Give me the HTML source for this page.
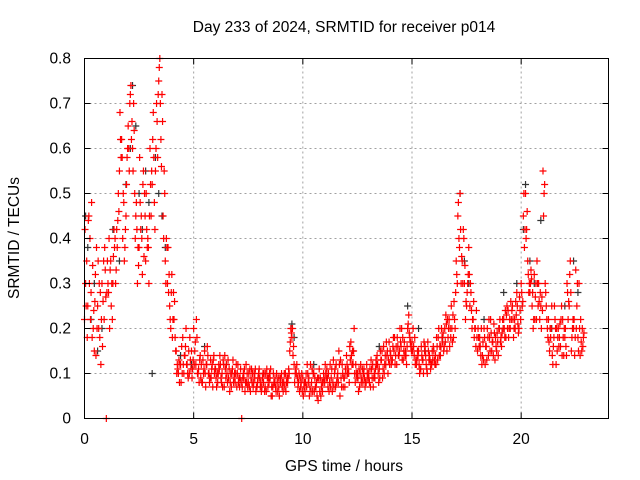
<!DOCTYPE html>
<html><head><meta charset="utf-8">
<style>
body{margin:0;background:#fff;}
svg{display:block;font-family:"Liberation Sans",sans-serif;}
</style></head>
<body>
<svg id="chart" width="640" height="480" viewBox="0 0 640 480">
<rect width="640" height="480" fill="#fff"/>
<g id="grid"></g>
<g id="black"></g>
<g id="red"></g>
<rect x="84.5" y="58.5" width="524" height="360" fill="none" stroke="#000" stroke-width="1"/>
<g id="ticks"></g>
<text x="344" y="32" text-anchor="middle" font-size="15.5">Day 233 of 2024, SRMTID for receiver p014</text>
<text x="344" y="471" text-anchor="middle" font-size="15.5">GPS time / hours</text>
<text x="19" y="238" text-anchor="middle" font-size="15.5" transform="rotate(-90 19 238)">SRMTID / TECUs</text>
</svg>
<script>
const xTicks=[0,5,10,15,20];
const yTicks=[0,0.1,0.2,0.3,0.4,0.5,0.6,0.7,0.8];
const yTickLabels=["0","0.1","0.2","0.3","0.4","0.5","0.6","0.7","0.8"];
const redStart=0, redStep=0.1;
const redA=[.22,.35,.45,.28,.2,.32,.25,.18,.3,.22,
0,.28,.35,.3,.4,.38,.55,.62,.48,.45,
.65,.72,.6,.5,.42,.38,.45,.55,.35,.4,
.6,.52,.48,.7,.75,.62,.45,.35,.3,.25,
.32,.22,.15,.1,.12,.18,.14,.12,.1,.15,
.2,.12,.1,.14,.08,.15,.12,.1,.09,.13,
.11,.08,.14,.1,.07,.12,.09,.1,.13,.08,
.1,.07,0,.09,.12,.08,.06,.1,.09,.07,
.11,.06,.08,.1,.07,.09,.05,.08,.1,.07,
.09,.06,.1,.08,.15,.18,.12,.1,.08,.07,
.09,.06,.12,.05,.08,.1,.07,.04,.09,.06,
.08,.11,.06,.09,.13,.07,.1,.05,.12,.09,
.14,.1,.17,.12,.08,.1,.07,.09,.11,.08,
.1,.07,.12,.09,.14,.11,.13,.16,.12,.1,
.15,.13,.18,.12,.14,.16,.13,.15,.2,.18,
.17,.14,.12,.15,.11,.13,.16,.1,.14,.12,
.15,.12,.18,.14,.17,.2,.15,.22,.25,.18,
.28,.45,.5,.35,.3,.25,.38,.28,.22,.2,
.15,.18,.12,.2,.16,.14,.22,.17,.13,.19,
.2,.16,.22,.18,.24,.2,.25,.22,.28,.2,
.3,.45,.5,.35,.28,.25,.32,.22,.3,.25,
.55,.3,.2,.15,.25,.18,.12,.2,.16,.22,
.18,.3,.25,.15,.2,.33,.18,.14,.2];
const redB=[.3,.25,.4,.18,.15,.38,.2,.12,.26,.33,
.35,.2,.3,.42,.33,.5,.62,.4,.38,.58,
.55,.62,.7,.45,.38,.48,.32,.5,.42,.3,
.45,.68,.55,.58,.8,.72,.55,.4,.28,.2,
.22,.18,.12,.08,.16,.1,.2,.09,.13,.11,
.15,.18,.08,.12,.1,.07,.14,.09,.12,.1,
.07,.12,.09,.13,.11,.08,.06,.1,.09,.12,
.08,.11,.09,.06,.1,.07,.11,.08,.06,.09,
.07,.09,.06,.11,.08,.05,.1,.07,.06,.09,
.07,.1,.08,.11,.2,.14,.1,.09,.06,.1,
.07,.1,.08,.12,.06,.09,.05,.11,.07,.1,
.1,.07,.12,.06,.1,.08,.15,.09,.07,.11,
.1,.16,.12,.2,.1,.06,.12,.08,.07,.1,
.08,.11,.09,.13,.1,.15,.09,.12,.14,.17,
.12,.18,.14,.16,.2,.13,.17,.12,.23,.16,
.2,.12,.15,.1,.14,.17,.12,.15,.11,.13,
.12,.16,.14,.2,.15,.23,.18,.2,.17,.22,
.32,.4,.3,.42,.22,.3,.25,.2,.18,.24,
.18,.14,.17,.12,.2,.18,.15,.21,.16,.14,
.17,.22,.18,.25,.2,.22,.18,.26,.21,.24,
.25,.38,.42,.28,.33,.2,.27,.3,.22,.27,
.5,.25,.22,.18,.12,.22,.15,.18,.25,.14,
.16,.22,.35,.2,.14,.25,.3,.17,.18];
const redC=[.42,.18,.3,.48,.24,.14,.35,.28,.16,.38,
.28,.4,.25,.36,.3,.44,.68,.58,.35,.52,
.6,.74,.55,.4,.3,.58,.4,.36,.5,.38,
.52,.62,.42,.66,.78,.56,.4,.3,.38,.22,
.18,.26,.1,.13,.08,.12,.16,.1,.18,.09,
.12,.22,.11,.09,.13,.1,.16,.08,.11,.14,
.09,.1,.12,.07,.14,.1,.11,.07,.08,.1,
.12,.09,.07,.11,.08,.1,.09,.07,.11,.08,
.09,.07,.1,.06,.09,.11,.07,.09,.08,.05,
.1,.08,.06,.09,.17,.2,.08,.12,.1,.08,
.05,.08,.1,.07,.11,.06,.08,.09,.05,.08,
.12,.09,.08,.11,.07,.12,.08,.13,.1,.07,
.12,.08,.14,.15,.12,.09,.1,.11,.09,.12,
.09,.13,.07,.11,.12,.09,.15,.1,.17,.13,
.14,.16,.12,.18,.15,.2,.15,.14,.21,.17,
.15,.18,.13,.12,.16,.1,.14,.17,.13,.15,
.13,.18,.2,.16,.19,.17,.22,.16,.2,.26,
.35,.48,.42,.3,.34,.28,.32,.24,.26,.16,
.2,.16,.14,.18,.13,.22,.19,.14,.18,.17,
.22,.19,.2,.23,.18,.26,.22,.2,.25,.27,
.28,.5,.4,.32,.3,.28,.22,.35,.26,.2,
.45,.28,.18,.2,.14,.25,.2,.16,.22,.18,
.2,.28,.32,.18,.22,.2,.15,.22,.16];
const redD=[.25,.44,.22,.34,.26,.2,.3,.22,.35,.27,
.3,.33,.22,.38,.42,.46,.58,.5,.42,.6,
.7,.66,.64,.48,.34,.42,.52,.45,.38,.45,
.55,.58,.6,.72,.7,.66,.5,.38,.32,.28,
.28,.15,.11,.12,.1,.14,.12,.15,.11,.13,
.17,.1,.13,.08,.11,.12,.1,.13,.07,.11,
.1,.11,.08,.12,.09,.13,.08,.11,.1,.07,
.09,.08,.1,.08,.07,.11,.08,.1,.07,.1,
.08,.1,.07,.09,.1,.07,.08,.06,.09,.08,
.08,.07,.09,.1,.19,.16,.11,.07,.09,.06,
.08,.07,.09,.06,.1,.07,.09,.06,.08,.09,
.09,.1,.07,.08,.11,.09,.12,.07,.09,.1,
.11,.13,.15,.1,.09,.11,.08,.1,.08,.09,
.11,.09,.1,.12,.08,.13,.11,.14,.15,.12,
.13,.15,.16,.14,.17,.18,.14,.16,.19,.15,
.16,.13,.14,.11,.13,.15,.11,.13,.12,.16,
.14,.13,.16,.18,.16,.21,.2,.18,.23,.2,
.3,.38,.36,.4,.26,.32,.3,.22,.2,.18,
.16,.2,.13,.16,.18,.15,.17,.19,.15,.2,
.18,.2,.24,.2,.22,.24,.2,.23,.19,.22,
.26,.42,.46,.3,.31,.22,.3,.25,.28,.24,
.52,.22,.17,.2,.16,.2,.18,.21,.14,.2,
.14,.26,.28,.22,.18,.3,.2,.15,.19];
const blackT=[0.05,0.15,0.3,0.45,0.6,0.8,1.3,1.6,1.9,2.1,2.2,2.35,2.5,2.65,2.8,2.95,3.1,3.25,3.4,3.55,3.7,4.4,4.9,5.5,6.5,8.2,9.5,9.6,10.5,12.3,13.5,14.8,15.3,15.6,16.4,17.2,17.4,17.6,18.3,19.0,19.2,19.8,20.1,20.2,20.4,20.6,20.9,21.4,22.0,22.4,22.6];
const blackV=[.45,.38,.22,.3,.15,.2,.42,.35,.52,.6,.74,.65,.5,.42,.55,.48,.1,.58,.5,.45,.38,.14,.12,.16,.12,.1,.21,.18,.12,.15,.16,.25,.2,.15,.18,.5,.35,.3,.22,.2,.28,.3,.42,.52,.35,.3,.44,.2,.25,.35,.28];
const X0=84.5,X1=608.5,Y0=418.5,Y1=58.5;
const xs=t=>X0+(t/24)*(X1-X0);
const ys=v=>Y0-(v/0.8)*(Y0-Y1);
const NS="http://www.w3.org/2000/svg";
function mk(tag,parent,attrs){const e=document.createElementNS(NS,tag);for(const k in attrs)e.setAttribute(k,attrs[k]);parent.appendChild(e);return e;}
const grid=document.getElementById('grid'),ticks=document.getElementById('ticks');
xTicks.forEach(t=>{
 const x=xs(t);
 if(t>0){const l=mk('line',grid,{x1:x,x2:x,y1:Y0,y2:Y1,stroke:'#a0a0a0','stroke-dasharray':'2,3'});
 
 }
 mk('line',ticks,{x1:x,x2:x,y1:Y0,y2:Y0-6,stroke:'#000'});
 mk('line',ticks,{x1:x,x2:x,y1:Y1,y2:Y1+6,stroke:'#000'});
 const tx=mk('text',ticks,{x:x,y:444,'text-anchor':'middle','font-size':'15.5'});
 tx.textContent=t;
 
 
});
yTicks.forEach((v,i)=>{
 const y=ys(v);
 if(i>0&&i<yTicks.length-1){const l=mk('line',grid,{x1:X0,x2:X1,y1:y,y2:y,stroke:'#a0a0a0','stroke-dasharray':'2,3'});
 
 }
 mk('line',ticks,{x1:X0,x2:X0+6,y1:y,y2:y,stroke:'#000'});
 mk('line',ticks,{x1:X1,x2:X1-6,y1:y,y2:y,stroke:'#000'});
 const tx=mk('text',ticks,{x:71,y:y+5,'text-anchor':'end','font-size':'15.5'});
 tx.textContent=yTickLabels[i];
 
 
});
function plus(g,t,v,color,name){
 const x=xs(t),y=ys(v);
 const p=mk('path',g,{d:`M${x-3.5},${y}H${x+3.5}M${x},${y-3.5}V${y+3.5}`,stroke:color,'stroke-width':'1.2',fill:'none'});
 
 
}
const bg=document.getElementById('black'),rg=document.getElementById('red');
blackT.forEach((t,i)=>plus(bg,t,blackV[i],'#333','black-point'));
redA.forEach((v,i)=>plus(rg,redStart+i*redStep,v,'#ff0000','red-point'));
redC.forEach((v,i)=>plus(rg,redStart+i*redStep+0.025,v,'#ff0000','red-point'));
redB.forEach((v,i)=>plus(rg,redStart+i*redStep+0.05,v,'#ff0000','red-point'));
redD.forEach((v,i)=>plus(rg,redStart+i*redStep+0.075,v,'#ff0000','red-point'));
</script>
</body></html>
